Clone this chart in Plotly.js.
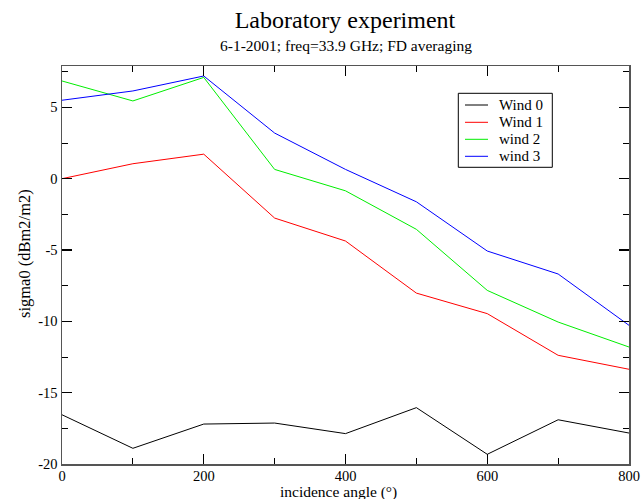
<!DOCTYPE html>
<html>
<head>
<meta charset="utf-8">
<script src="https://cdn.plot.ly/plotly-3.0.1.min.js"></script>
<style>html,body{margin:0;padding:0;background:#fff;}#chart{width:641px;height:499px;}</style>
</head>
<body>
<div id="chart"></div>
<script>
const angles = [0, 100, 200, 300, 400, 500, 600, 700, 800];
const wind0 = [-16.55, -18.9, -17.2, -17.13, -17.87, -16.05, -19.32, -16.9, -17.83];
const wind1 = [0.0, 1.05, 1.72, -2.76, -4.37, -8.02, -9.46, -12.38, -13.36];
const wind2 = [6.85, 5.45, 7.1, 0.65, -0.85, -3.55, -7.83, -10.05, -11.8];
const wind3 = [5.5, 6.15, 7.2, 3.2, 0.65, -1.62, -5.07, -6.68, -10.28];
const seriesNames = ["Wind 0", "Wind 1", "wind 2", "wind 3"];
const seriesColors = ["#000000", "#ff0000", "#00ee00", "#0000ff"];
const xTickVals = [0, 200, 400, 600, 800];
const yTickVals = [-20, -15, -10, -5, 0, 5];

const serif = '"Liberation Serif", "Times New Roman", Times, serif';
const data = [wind0, wind1, wind2, wind3].map((ys, i) => ({
  x: angles, y: ys, type: "scatter", mode: "lines",
  name: seriesNames[i], showlegend: false,
  line: {color: seriesColors[i], width: 1}
}));

// plot area in pixels
const L = 62, R = 629, T = 66, B = 464;
const px = v => (v - L) / (R - L);
const py = v => (B - v) / (B - T);

const shapes = [{type: "rect", xref: "paper", yref: "paper",
  x0: px(458.3), x1: px(552.3), y0: py(167.3), y1: py(93.3),
  line: {color: "#000", width: 1}, fillcolor: "#fff", layer: "above"}];
const annotations = [];
const rowY = [105, 122.3, 139.3, 156.3];
seriesNames.forEach((nm, i) => {
  shapes.push({type: "line", xref: "paper", yref: "paper",
    x0: px(465), x1: px(488), y0: py(rowY[i]), y1: py(rowY[i]),
    line: {color: seriesColors[i], width: 1}, layer: "above"});
  annotations.push({text: nm, xref: "paper", yref: "paper", x: px(498), y: py(rowY[i]),
    xanchor: "left", yanchor: "middle", showarrow: false, borderpad: 0,
    font: {family: serif, size: 15, color: "#000"}});
});
annotations.push({text: "6-1-2001; freq=33.9 GHz; FD averaging", xref: "paper", yref: "paper",
  x: px(346), y: py(45), xanchor: "center", yanchor: "middle", showarrow: false,
  font: {family: serif, size: 15.5, color: "#000"}});
annotations.push({text: "incidence angle (°)", xref: "paper", yref: "paper",
  x: px(338), y: py(492), xanchor: "center", yanchor: "middle", showarrow: false,
  font: {family: serif, size: 15.5, color: "#000"}});
annotations.push({text: "sigma0 (dBm2/m2)", xref: "paper", yref: "paper", textangle: -90,
  x: px(24), y: py(254), xanchor: "center", yanchor: "middle", showarrow: false,
  font: {family: serif, size: 16.5, color: "#000"}});

const axisCommon = {
  showline: true, linecolor: "#555", linewidth: 1.5, mirror: "allticks",
  ticks: "inside", ticklen: 10, tickwidth: 1.2, tickcolor: "#000",
  showgrid: false, zeroline: false,
  tickfont: {family: serif, size: 14.5, color: "#000"}
};

const layout = {
  width: 641, height: 499,
  margin: {l: L, r: 641 - R, t: T, b: 499 - B},
  paper_bgcolor: "#fff", plot_bgcolor: "#fff",
  title: {text: "Laboratory experiment", font: {family: serif, size: 24, color: "#000"},
          xref: "container", yref: "container", x: 345 / 641, xanchor: "center", y: 1 - 20 / 499, yanchor: "middle"},
  shapes: shapes,
  annotations: annotations,
  xaxis: Object.assign({}, axisCommon, {
    range: [0, 800], tickvals: xTickVals, ticktext: xTickVals.map(String), ticklabelstandoff: -2,
    minor: {dtick: 100, ticks: "inside", ticklen: 6, tickcolor: "#000", tickwidth: 1, showgrid: false}
  }),
  yaxis: Object.assign({}, axisCommon, {
    range: [-20, 7.9], tickvals: yTickVals, ticktext: yTickVals.map(String),
    minor: {dtick: 2.5, tick0: 0, ticks: "inside", ticklen: 6, tickcolor: "#000", tickwidth: 1, showgrid: false}
  }),
  showlegend: false
};

Plotly.newPlot("chart", data, layout, {displayModeBar: false, staticPlot: true});
</script>
</body>
</html>
